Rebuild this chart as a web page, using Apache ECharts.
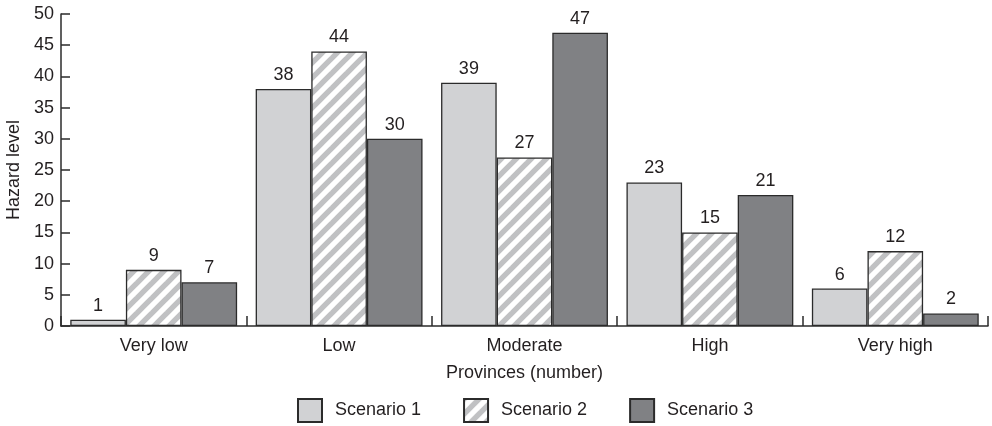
<!DOCTYPE html>
<html>
<head>
<meta charset="utf-8">
<script src="https://cdn.jsdelivr.net/npm/echarts@6/dist/echarts.min.js"></script>
<style>
  html, body { margin: 0; padding: 0; background: #fff; }
  #chart { width: 992px; height: 426px; }
</style>
</head>
<body>
<div id="chart"></div>
<script>
// Hazard classes and the count of provinces per scenario
const categories = ['Very low', 'Low', 'Moderate', 'High', 'Very high'];
const scenario1 = [1, 38, 39, 23, 6];
const scenario2 = [9, 44, 27, 15, 12];
const scenario3 = [7, 30, 47, 21, 2];
const seriesNames = ['Scenario 1', 'Scenario 2', 'Scenario 3'];
const yTicks = { min: 0, max: 50, interval: 5 };

// Diagonal hatch tile: white ground with grey "/" stripes
function makeHatch() {
  const size = 15;
  const c = document.createElement('canvas');
  c.width = size; c.height = size;
  const g = c.getContext('2d');
  g.fillStyle = '#ffffff';
  g.fillRect(0, 0, size, size);
  g.strokeStyle = '#c0c1c3';
  g.lineWidth = 5.4;
  for (let k = -1; k <= 1; k++) {
    g.beginPath();
    g.moveTo(k * size - 2, size + 2);
    g.lineTo(k * size + size + 2, -2);
    g.stroke();
  }
  return c;
}
const hatch = { image: makeHatch(), repeat: 'repeat' };

const font = 'Liberation Sans, Arial, Helvetica, sans-serif';
const textColor = '#231f20';
const edge = '#2b2b2b';
const fs = 18;

function barSeries(name, data, fill) {
  return {
    name: name,
    type: 'bar',
    data: data,
    barGap: '0%',
    barCategoryGap: '10%',
    itemStyle: { color: fill, borderColor: edge, borderWidth: 1.3 },
    label: {
      show: true,
      position: 'top',
      distance: 5,
      color: textColor,
      fontFamily: font,
      fontSize: fs
    },
    emphasis: { disabled: true }
  };
}

const chart = echarts.init(document.getElementById('chart'), null, { renderer: 'canvas' });
chart.setOption({
  animation: false,
  backgroundColor: '#ffffff',
  textStyle: { fontFamily: font, color: textColor },
  grid: { left: 61, right: 4, top: 14, bottom: 100, containLabel: false, outerBoundsMode: 'none' },
  legend: {
    data: seriesNames,
    bottom: 3,
    left: 297,
    padding: 0,
    itemWidth: 24,
    itemHeight: 23,
    itemGap: 42,
    icon: 'rect',
    textStyle: { fontFamily: font, fontSize: fs, color: textColor, padding: [0, 0, 0, 8] }
  },
  xAxis: {
    type: 'category',
    data: categories,
    name: 'Provinces (number)',
    nameLocation: 'middle',
    nameGap: 38,
    nameTextStyle: { fontFamily: font, fontSize: fs, color: textColor },
    axisLine: { lineStyle: { color: edge, width: 1.5 } },
    axisTick: { show: true, inside: true, length: 10, lineStyle: { color: edge, width: 1.5 } },
    axisLabel: { fontFamily: font, fontSize: fs, color: textColor, margin: 11 }
  },
  yAxis: {
    type: 'value',
    min: yTicks.min,
    max: yTicks.max,
    interval: yTicks.interval,
    name: 'Hazard level',
    nameLocation: 'middle',
    nameGap: 37,
    nameTextStyle: { fontFamily: font, fontSize: fs, color: textColor },
    axisLine: { show: true, lineStyle: { color: edge, width: 1.5 } },
    axisTick: { show: true, inside: true, length: 9, lineStyle: { color: edge, width: 1.5 } },
    axisLabel: { fontFamily: font, fontSize: fs, color: textColor, margin: 7 },
    splitLine: { show: false }
  },
  series: [
    barSeries(seriesNames[0], scenario1, '#d1d2d4'),
    barSeries(seriesNames[1], scenario2, hatch),
    barSeries(seriesNames[2], scenario3, '#808184')
  ]
});
</script>
</body>
</html>
